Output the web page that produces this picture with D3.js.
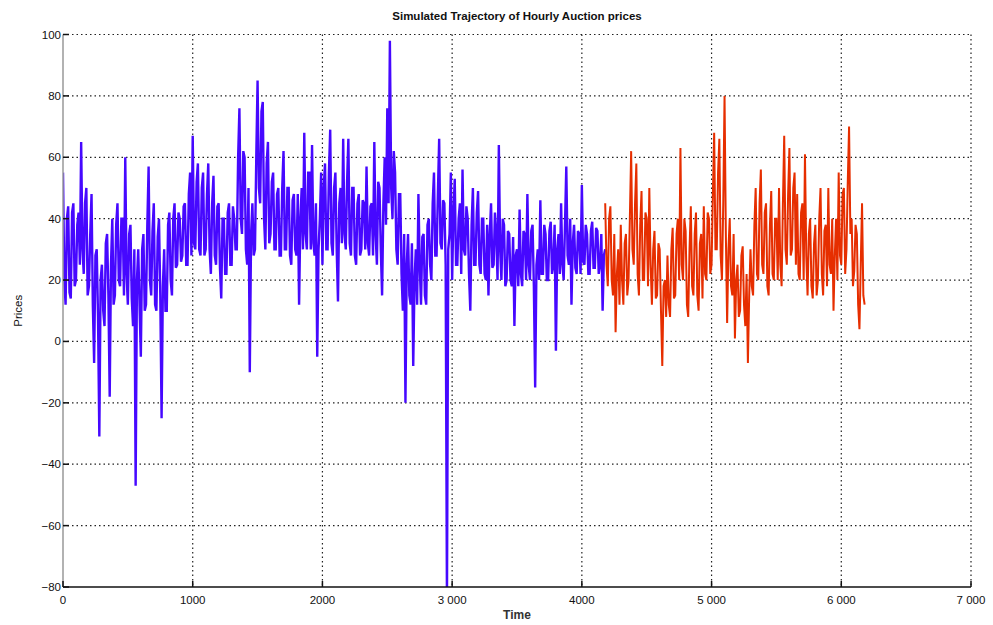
<!DOCTYPE html>
<html>
<head>
<meta charset="utf-8">
<script src="https://d3js.org/d3.v7.min.js"></script>
<style>
  body { margin: 0; background: #fff; }
  text { font-family: "Liberation Sans", Arial, sans-serif; }
</style>
</head>
<body>
<div id="chart"></div>
<script>
// hourly prices, one reading every 10 hours
var timeStep = 10;

// simulated part of the trajectory (blue), from t = 0
var bluePrices = [
    55, 20, 12, 40, 44, 16, 14, 42, 45, 18, 20, 38, 42, 25, 65, 30, 22, 45, 50, 15,
    18, 35, 48, 12, -7, 28, 30, 8, -31, 20, 25, 10, 5, 32, 35, 15, -18, 25, 40, 12,
    15, 38, 45, 20, 18, 40, 40, 15, 60, 22, 12, 35, 38, 14, 5, 30, -47, 20, 30, 12,
    -5, 30, 35, 10, 12, 38, 57, 20, 15, 36, 45, 12, 10, 34, 40, 15, -25, 18, 30, 10,
    10, 38, 42, 20, 15, 40, 45, 24, 25, 42, 40, 26, 28, 44, 45, 25, 25, 48, 55, 28,
    67, 32, 30, 52, 58, 30, 28, 50, 55, 28, 30, 48, 58, 30, 22, 45, 54, 28, 25, 44,
    45, 24, 14, 40, 40, 22, 22, 42, 45, 25, 25, 44, 40, 30, 30, 60, 76, 40, 35, 62,
    60, 30, 25, 50, -10, 35, 45, 28, 30, 60, 85, 50, 45, 75, 78, 40, 30, 58, 65, 32,
    35, 52, 55, 30, 30, 48, 50, 28, 28, 50, 62, 30, 30, 50, 50, 28, 25, 46, 48, 30,
    28, 48, 12, 40, 50, 30, 68, 35, 30, 55, 55, 30, 64, 32, 28, 45, -5, 30, 40, 55,
    25, 50, 58, 30, 30, 55, 69, 32, 28, 50, 55, 30, 13, 45, 50, 32, 66, 35, 30, 52,
    66, 32, 28, 50, 50, 28, 25, 45, 48, 28, 30, 46, 45, 30, 57, 32, 28, 44, 45, 28,
    65, 35, 25, 52, 50, 30, 15, 45, 60, 38, 76, 45, 98, 50, 40, 62, 55, 30, 25, 48,
    48, 22, 10, 35, -20, 25, 35, 15, 12, 32, -8, 20, 30, 12, 48, 25, 12, 34, 35, 15,
    12, 38, 40, 25, 20, 45, 55, 28, 28, 48, 66, 32, 30, 46, 45, 25, -85, 30, 35, 55,
    20, 42, 53, 25, 25, 40, 45, 22, 56, 30, 28, 44, 40, 22, 10, 38, 50, 25, 25, 42,
    49, 25, 22, 40, 40, 22, 20, 38, 15, 35, 45, 24, 25, 42, 35, 20, 64, 30, 20, 40,
    38, 18, 20, 36, 35, 20, 18, 34, 5, 28, 30, 18, 43, 22, 18, 36, 35, 20, 48, 25,
    20, 36, 38, 18, -15, 25, 30, 20, 46, 22, 22, 38, 35, 20, 20, 36, 39, 22, 25, 38,
    -3, 30, 35, 22, 45, 25, 20, 38, 57, 28, 25, 40, 12, 32, 38, 24, 22, 36, 35, 22,
    51, 26, 25, 38, 35, 22, 22, 36, 39, 24, 24, 37, 36, 22, 25, 35, 10, 28, 30
];

// forecast part (red), starting at t = 4180
var redStart = 4180;
var redPrices = [
    45, 25, 18, 40, 44, 20, 15, 35, 3, 22, 30, 12, 38, 20, 12, 32, 35, 15, 20, 40,
    62, 30, 25, 45, 58, 22, 15, 38, 49, 20, 20, 42, 40, 18, 50, 25, 12, 30, 36, 14,
    15, 32, 30, 10, -8, 18, 20, 8, 28, 12, 8, 30, 37, 14, 15, 35, 40, 20, 63, 25,
    20, 40, 36, 12, 8, 30, 44, 18, 15, 35, 42, 15, 10, 32, 35, 14, 44, 22, 20, 42,
    40, 22, 25, 48, 68, 30, 30, 55, 66, 28, 20, 45, 80, 35, 6, 30, 40, 18, 15, 35,
    1, 20, 25, 8, 10, 28, 31, 12, 5, 22, -7, 15, 30, 18, 15, 38, 50, 22, 20, 45,
    56, 25, 22, 42, 45, 18, 15, 38, 49, 22, 20, 40, 40, 20, 50, 25, 18, 45, 67, 30,
    25, 48, 63, 28, 30, 50, 55, 25, 48, 22, 20, 42, 45, 20, 61, 28, 15, 35, 40, 18,
    14, 32, 38, 15, 20, 40, 50, 22, 15, 36, 38, 18, 50, 25, 22, 40, 10, 28, 40, 20,
    55, 28, 25, 48, 50, 22, 30, 52, 70, 35, 40, 18, 23, 38, 35, 12, 4, 25, 45, 15,
    12
];

var yTicks = [100, 80, 60, 40, 20, 0, -20, -40, -60, -80];
var xTicks = [0, 1000, 2000, 3000, 4000, 5000, 6000, 7000];
var xTickLabels = ["0", "1000", "2000", "3 000", "4000", "5 000", "6 000", "7 000"];

var width = 993, height = 625;
var plot = {left: 63, right: 971, top: 34.5, bottom: 587};

var svg = d3.select("#chart").append("svg")
    .attr("width", width)
    .attr("height", height);

var x = d3.scaleLinear()
    .domain([0, 7000])
    .range([plot.left, plot.right]);

var y = d3.scaleLinear()
    .domain([-80, 100])
    .range([plot.bottom, plot.top]);

svg.append("clipPath")
    .attr("id", "clip")
    .append("rect")
    .attr("x", plot.left)
    .attr("y", plot.top)
    .attr("width", plot.right - plot.left)
    .attr("height", plot.bottom - plot.top);

// dotted grid
svg.selectAll(".hgrid")
    .data(yTicks.filter(function (d) { return d !== -80; }))
    .enter().append("line")
    .attr("class", "hgrid")
    .attr("x1", plot.left)
    .attr("x2", plot.right)
    .attr("y1", function (d) { return y(d); })
    .attr("y2", function (d) { return y(d); })
    .attr("stroke", "#222")
    .attr("stroke-width", 1.2)
    .attr("stroke-dasharray", "1.5,3");

svg.selectAll(".vgrid")
    .data(xTicks.filter(function (d) { return d !== 0; }))
    .enter().append("line")
    .attr("class", "vgrid")
    .attr("x1", function (d) { return x(d); })
    .attr("x2", function (d) { return x(d); })
    .attr("y1", plot.top)
    .attr("y2", plot.bottom)
    .attr("stroke", "#222")
    .attr("stroke-width", 1.2)
    .attr("stroke-dasharray", "1.5,3");

var line = d3.line()
    .x(function (d) { return x(d.t); })
    .y(function (d) { return y(d.v); });

var blueData = bluePrices.map(function (v, i) { return {t: i * timeStep, v: v}; });
var redData = redPrices.map(function (v, i) { return {t: redStart + i * timeStep, v: v}; });

svg.append("path")
    .datum(blueData)
    .attr("clip-path", "url(#clip)")
    .attr("fill", "none")
    .attr("stroke", "#4608ff")
    .attr("stroke-width", 2.4)
    .attr("d", line);

svg.append("path")
    .datum(redData)
    .attr("clip-path", "url(#clip)")
    .attr("fill", "none")
    .attr("stroke", "#e62e00")
    .attr("stroke-width", 2)
    .attr("d", line);

// axes lines (left and bottom only)
svg.append("line")
    .attr("x1", plot.left).attr("x2", plot.left)
    .attr("y1", plot.top).attr("y2", plot.bottom)
    .attr("stroke", "#999")
    .attr("stroke-width", 1.5);

svg.append("line")
    .attr("x1", plot.left).attr("x2", plot.right)
    .attr("y1", plot.bottom).attr("y2", plot.bottom)
    .attr("stroke", "#111")
    .attr("stroke-width", 1.5);

// inward ticks
svg.selectAll(".ytick")
    .data(yTicks)
    .enter().append("line")
    .attr("class", "ytick")
    .attr("x1", plot.left)
    .attr("x2", plot.left + 6)
    .attr("y1", function (d) { return y(d); })
    .attr("y2", function (d) { return y(d); })
    .attr("stroke", "#111")
    .attr("stroke-width", 1.5);

svg.selectAll(".xtick")
    .data(xTicks)
    .enter().append("line")
    .attr("class", "xtick")
    .attr("x1", function (d) { return x(d); })
    .attr("x2", function (d) { return x(d); })
    .attr("y1", plot.bottom)
    .attr("y2", plot.bottom - 6)
    .attr("stroke", "#111")
    .attr("stroke-width", 1.5);

// tick labels
svg.selectAll(".ylabel")
    .data(yTicks)
    .enter().append("text")
    .attr("class", "ylabel")
    .attr("x", plot.left - 2)
    .attr("y", function (d) { return y(d); })
    .attr("dy", "0.35em")
    .attr("text-anchor", "end")
    .attr("font-size", 11.5)
    .attr("fill", "#111")
    .text(function (d) { return d < 0 ? "\u2212" + Math.abs(d) : d; });

svg.selectAll(".xlabel")
    .data(xTicks)
    .enter().append("text")
    .attr("class", "xlabel")
    .attr("x", function (d) { return x(d); })
    .attr("y", plot.bottom + 17)
    .attr("text-anchor", "middle")
    .attr("font-size", 11.5)
    .attr("fill", "#111")
    .text(function (d, i) { return xTickLabels[i]; });

// titles
svg.append("text")
    .attr("x", (plot.left + plot.right) / 2)
    .attr("y", 20)
    .attr("text-anchor", "middle")
    .attr("font-size", 11.5)
    .attr("font-weight", "bold")
    .attr("fill", "#111")
    .text("Simulated Trajectory of Hourly Auction prices");

svg.append("text")
    .attr("x", (plot.left + plot.right) / 2)
    .attr("y", 619)
    .attr("text-anchor", "middle")
    .attr("font-size", 12)
    .attr("font-weight", "bold")
    .attr("fill", "#333")
    .text("Time");

svg.append("text")
    .attr("transform", "translate(22," + y(10) + ") rotate(-90)")
    .attr("text-anchor", "middle")
    .attr("font-size", 11.5)
    .attr("fill", "#111")
    .text("Prices");
</script>
</body>
</html>
